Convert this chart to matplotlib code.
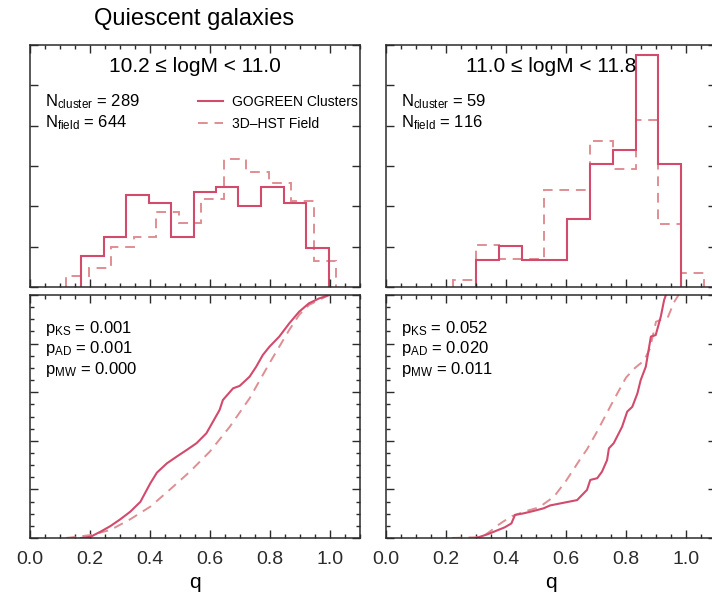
"""
Quiescent galaxies: distribusi axis ratio q, cluster (GOGREEN) vs field (3D-HST)
Atas  : histogram fraksi q per bin massa
Bawah : distribusi kumulatif q
Output: out.png
"""
import numpy as np
import matplotlib
matplotlib.use("Agg")
import matplotlib.pyplot as plt
from matplotlib.lines import Line2D
from matplotlib.ticker import MultipleLocator, NullLocator, FormatStrFormatter

plt.rcParams['font.family'] = ['Liberation Sans', 'DejaVu Sans']
plt.rcParams['mathtext.fontset'] = 'custom'
plt.rcParams['mathtext.rm'] = 'Liberation Sans'
plt.rcParams['mathtext.it'] = 'Liberation Sans:italic'

# ---- data ----
mass_labels = ['10.2 ≤ logM < 11.0', '11.0 ≤ logM < 11.8']
n_cluster = [289, 59]
n_field = [644, 116]
p_ks = [0.001, 0.052]
p_ad = [0.001, 0.020]
p_mw = [0.000, 0.011]

# histogram: tepi bin dan jumlah galaksi per bin
cl_lo_edges = [0.170, 0.245, 0.320, 0.395, 0.470, 0.545, 0.620, 0.695, 0.770, 0.845, 0.920, 0.995]
cl_lo_counts = [11, 18, 33, 30, 18, 34, 36, 29, 36, 30, 14]
fd_lo_edges = [0.120, 0.195, 0.270, 0.345, 0.420, 0.495, 0.570, 0.645, 0.720, 0.795, 0.870, 0.945, 1.020]
fd_lo_counts = [9, 15, 32, 40, 60, 51, 70, 102, 92, 83, 69, 21]

cl_hi_edges = [0.300, 0.376, 0.452, 0.528, 0.604, 0.680, 0.756, 0.832, 0.908, 0.984]
cl_hi_counts = [2, 3, 2, 2, 5, 9, 10, 17, 9]
fd_hi_edges = [0.224, 0.300, 0.376, 0.452, 0.528, 0.604, 0.680, 0.756, 0.832, 0.908, 0.984, 1.060]
fd_hi_counts = [1, 6, 4, 4, 14, 14, 21, 17, 24, 9, 2]

# distribusi kumulatif (q, F)
q_cl_lo = [0.170, 0.202, 0.235, 0.268, 0.301, 0.334, 0.368, 0.401, 0.423, 0.456, 0.489, 0.522,
           0.555, 0.588, 0.610, 0.632, 0.643, 0.677, 0.699, 0.732, 0.754, 0.776, 0.798, 0.831,
           0.864, 0.897, 0.930, 0.964, 0.997]
F_cl_lo = [0.000, 0.005, 0.026, 0.049, 0.077, 0.108, 0.149, 0.225, 0.269, 0.307, 0.335, 0.362,
           0.390, 0.431, 0.479, 0.527, 0.568, 0.616, 0.626, 0.664, 0.705, 0.753, 0.787, 0.829,
           0.883, 0.931, 0.966, 0.986, 1.000]
q_fd_lo = [0.120, 0.202, 0.268, 0.334, 0.401, 0.467, 0.533, 0.599, 0.666, 0.732, 0.798, 0.864,
           0.897, 0.930, 0.997]
F_fd_lo = [0.000, 0.012, 0.033, 0.077, 0.129, 0.200, 0.273, 0.355, 0.458, 0.575, 0.719, 0.856,
           0.918, 0.959, 1.000]

q_cl_hi = [0.301, 0.340, 0.368, 0.396, 0.418, 0.430, 0.457, 0.491, 0.525, 0.547, 0.592, 0.637,
           0.659, 0.670, 0.681, 0.704, 0.720, 0.737, 0.743, 0.759, 0.776, 0.787, 0.804, 0.821,
           0.838, 0.849, 0.866, 0.883, 0.899, 0.916, 0.927, 0.933]
F_cl_hi = [0.000, 0.016, 0.030, 0.044, 0.060, 0.095, 0.101, 0.111, 0.122, 0.134, 0.145, 0.156,
           0.184, 0.198, 0.239, 0.246, 0.273, 0.321, 0.369, 0.390, 0.431, 0.458, 0.520, 0.540,
           0.595, 0.650, 0.705, 0.829, 0.835, 0.911, 0.979, 1.000]
q_fd_hi = [0.220, 0.300, 0.330, 0.350, 0.370, 0.390, 0.420, 0.470, 0.510, 0.560, 0.600, 0.645,
           0.670, 0.700, 0.730, 0.760, 0.800, 0.830, 0.860, 0.880, 0.900, 0.940, 0.960, 0.975]
F_fd_hi = [0.000, 0.003, 0.012, 0.030, 0.050, 0.067, 0.090, 0.112, 0.126, 0.170, 0.235, 0.320,
           0.365, 0.430, 0.500, 0.570, 0.660, 0.700, 0.730, 0.780, 0.890, 0.910, 0.970, 1.000]

C_CLUSTER = '#d24a6c'
C_FIELD = '#df8e93'
C_AXIS = '#2b2b2b'
FIELD_DASH = (0, (5, 3.5))

W, H = 712, 597


def rect(x0, top, w, h):
    """Posisi axes dalam piksel -> fraksi figure."""
    return [x0 / W, 1 - (top + h) / H, w / W, h / H]


def style_axis(ax, top_panel):
    ax.set_xlim(0, 1.1)
    ax.xaxis.set_major_locator(MultipleLocator(0.2))
    ax.xaxis.set_minor_locator(MultipleLocator(0.05))
    if top_panel:
        ax.set_ylim(0, 0.3)
        ax.yaxis.set_major_locator(MultipleLocator(0.05))
        ax.yaxis.set_minor_locator(NullLocator())
    else:
        ax.set_ylim(0, 1.0)
        ax.yaxis.set_major_locator(MultipleLocator(0.2))
        ax.yaxis.set_minor_locator(MultipleLocator(0.05))
    ax.tick_params(which='both', direction='in', top=True, right=True,
                   colors=C_AXIS, width=1.0, labelleft=False,
                   labelbottom=not top_panel, labelsize=14, pad=9)
    ax.tick_params(which='major', length=5.5)
    ax.tick_params(which='minor', length=3)
    ax.xaxis.set_major_formatter(FormatStrFormatter('%.1f'))
    for s in ax.spines.values():
        s.set_linewidth(1.1)
        s.set_color(C_AXIS)


def draw_column(ax_h, ax_c, i, cl_edges, cl_counts, fd_edges, fd_counts,
                q_cl, F_cl, q_fd, F_fd, legend=False):
    # histogram fraksi
    ax_h.stairs(np.array(fd_counts) / n_field[i], fd_edges, color=C_FIELD,
                lw=1.4, linestyle=FIELD_DASH)
    ax_h.stairs(np.array(cl_counts) / n_cluster[i], cl_edges, color=C_CLUSTER, lw=1.5)
    ax_h.text(0.5, 0.91, mass_labels[i], transform=ax_h.transAxes,
              ha='center', va='center', fontsize=15)
    ax_h.text(0.045, 0.765, r'N$_{\rm cluster}$ = %d' % n_cluster[i],
              transform=ax_h.transAxes, ha='left', va='center', fontsize=12)
    ax_h.text(0.045, 0.68, r'N$_{\rm field}$ = %d' % n_field[i],
              transform=ax_h.transAxes, ha='left', va='center', fontsize=12)
    if legend:
        handles = [Line2D([], [], color=C_CLUSTER, lw=1.5),
                   Line2D([], [], color=C_FIELD, lw=1.4, linestyle=FIELD_DASH)]
        ax_h.legend(handles, ['GOGREEN Clusters', '3D\u2013HST Field'],
                    loc='upper left', bbox_to_anchor=(0.51, 0.795), frameon=False,
                    fontsize=10, handlelength=1.75, handletextpad=0.65,
                    labelspacing=0.6, borderpad=0, borderaxespad=0)

    # distribusi kumulatif
    ax_c.plot(q_fd, F_fd, color=C_FIELD, lw=1.4, linestyle=FIELD_DASH)
    ax_c.plot(q_cl, F_cl, color=C_CLUSTER, lw=1.5)
    for k, (nm, v) in enumerate([('KS', p_ks[i]), ('AD', p_ad[i]), ('MW', p_mw[i])]):
        ax_c.text(0.045, 0.862 - 0.084 * k, r'p$_{\rm %s}$ = %.3f' % (nm, v),
                  transform=ax_c.transAxes, ha='left', va='center', fontsize=12)
    ax_c.set_xlabel('q', fontsize=15, labelpad=4)


if __name__ == "__main__":
    fig = plt.figure(figsize=(W / 100, H / 100), dpi=100)

    ax_tl = fig.add_axes(rect(30, 45, 330, 242))
    ax_bl = fig.add_axes(rect(30, 295, 330, 243))
    ax_tr = fig.add_axes(rect(386, 45, 330, 242))
    ax_br = fig.add_axes(rect(386, 295, 330, 243))

    for ax in (ax_tl, ax_tr):
        style_axis(ax, True)
    for ax in (ax_bl, ax_br):
        style_axis(ax, False)

    draw_column(ax_tl, ax_bl, 0, cl_lo_edges, cl_lo_counts, fd_lo_edges, fd_lo_counts,
                q_cl_lo, F_cl_lo, q_fd_lo, F_fd_lo, legend=True)
    draw_column(ax_tr, ax_br, 1, cl_hi_edges, cl_hi_counts, fd_hi_edges, fd_hi_counts,
                q_cl_hi, F_cl_hi, q_fd_hi, F_fd_hi)

    fig.text(194 / W, 1 - 19 / H, 'Quiescent galaxies', ha='center', va='center', fontsize=17)

    fig.savefig('out.png', dpi=100)
